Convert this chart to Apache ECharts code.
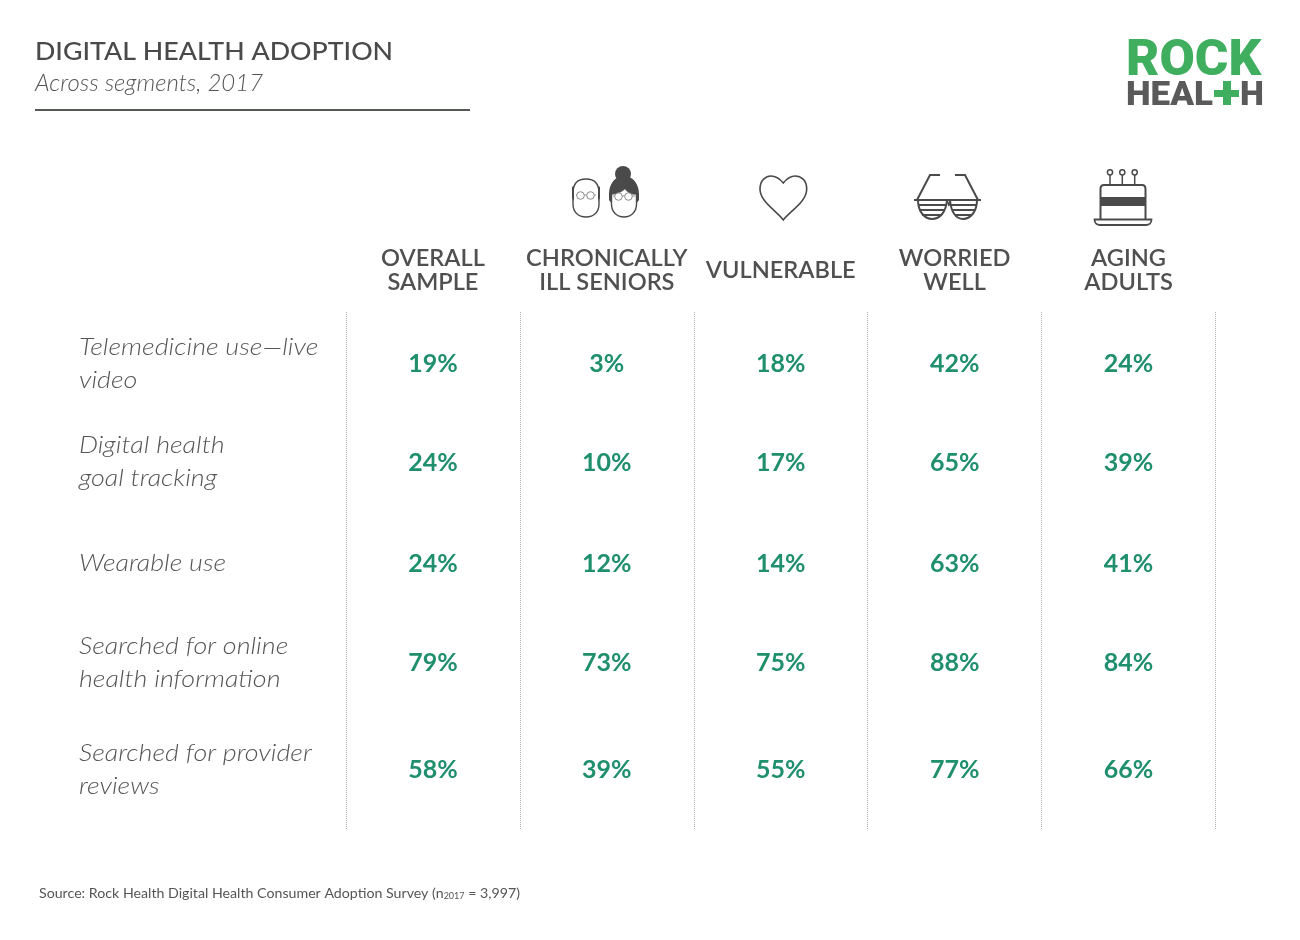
<!DOCTYPE html>
<html>
<head>
<meta charset="utf-8">
<title>Digital health adoption</title>
<script src="https://cdn.jsdelivr.net/npm/echarts@6/dist/echarts.min.js"></script>
<style>
html, body { margin: 0; padding: 0; background: #fff; }
#main { width: 1300px; height: 940px; }
</style>
</head>
<body>
<div id="main"></div>
<script>
var segments = ['OVERALL\nSAMPLE', 'CHRONICALLY\nILL SENIORS', 'VULNERABLE', 'WORRIED\nWELL', 'AGING\nADULTS'];
var measures = [
    'Telemedicine use\u2014live\nvideo',
    'Digital health\ngoal tracking',
    'Wearable use',
    'Searched for online\nhealth information',
    'Searched for provider\nreviews'
];
var overallSample = [19, 24, 24, 79, 58];
var chronicallyIllSeniors = [3, 10, 12, 73, 39];
var vulnerable = [18, 17, 14, 75, 55];
var worriedWell = [42, 65, 63, 88, 77];
var agingAdults = [24, 39, 41, 84, 66];

var columns = [overallSample, chronicallyIllSeniors, vulnerable, worriedWell, agingAdults];

// rows in the original are not evenly spaced, px shift from the band centre
var rowShift = [0, -5, -7, -11, -8];

var FONT = 'Lato';
var DARK = '#4a4a4a';
var GREEN = '#1f8f6c';

var cells = [];
columns.forEach(function (col, c) {
    col.forEach(function (v, r) {
        cells.push({ value: [c, r, v], label: { offset: [0, rowShift[r] + 0.5] } });
    });
});

var path = function (d, fill, stroke, width) {
    return {
        type: 'path',
        shape: { pathData: d },
        style: { fill: fill || 'none', stroke: stroke || 'none', lineWidth: width || 0 }
    };
};
var circle = function (x, y, r, fill, stroke, width) {
    return {
        type: 'circle',
        shape: { cx: x, cy: y, r: r },
        style: { fill: fill || 'none', stroke: stroke || 'none', lineWidth: width || 0 }
    };
};
var rect = function (x, y, w, h, fill) {
    return { type: 'rect', shape: { x: x, y: y, width: w, height: h }, style: { fill: fill } };
};
var logoText = function (text, x, y, size, fill, sx) {
    return {
        type: 'text',
        silent: true,
        x: x,
        y: y,
        scaleX: sx,
        style: { text: text, fill: fill, font: '900 ' + size + 'px Roboto', verticalAlign: 'middle' }
    };
};

var iconParts = [
    // seniors
    path('M586 179 C577 179 573 184 573 193 L573 204 C573 212 578 217 586 217 C594 217 599 212 599 204 L599 193 C599 184 595 179 586 179 Z', '#fff', DARK, 1.4),
    path('M572 187 L574 186 L574 201 L572 198 Z M600 187 L598 186 L598 201 L600 198 Z', DARK),
    circle(580.5, 195.5, 3.8, 'none', '#8a8a8a', 1),
    circle(590.5, 195.5, 3.8, 'none', '#8a8a8a', 1),
    path('M576 195 L577 195 M584.3 195 L586.7 195 M594.3 195 L596 195', 'none', '#8a8a8a', 1),
    circle(623, 174, 8, DARK),
    path('M624 176 C615 176 609 184 609 194 L609 200 L612 204 L612 194 C618 194 624 190 625 188 C627 191 631 194 636 194 L636 204 L639 200 L639 194 C639 184 633 176 624 176 Z', DARK),
    path('M611.5 194 C618 194 624 190 625 188 C627 191 631 194 636.5 194 L636.5 204 C636.5 212 631 217 624 217 C617 217 611.5 212 611.5 204 Z', '#fff', DARK, 1.4),
    circle(618.5, 196.5, 3.8, 'none', '#8a8a8a', 1),
    circle(628.5, 196.5, 3.8, 'none', '#8a8a8a', 1),
    path('M613 196 L614.7 196 M622.3 196 L624.7 196 M632.3 196 L635 196', 'none', '#8a8a8a', 1),

    // heart
    path('M783.3 220 C777 211 760 202 760 189 C760 180 766 176 771 176 C776 176 780 179 783.3 183 C786.5 179 790 176 795 176 C801 176 806.7 180 806.7 189 C806.7 202 790 211 783.3 220 Z', 'none', DARK, 1.6),

    // shutter shades
    path('M914 200 L981 200', 'none', DARK, 2),
    path('M917 200 L930 175 L940 175 M978 200 L965 175 L955 175', 'none', DARK, 2),
    path('M918 200 C918 212 925 219 932 219 C940 219 946 212 947 200 M950 200 C951 212 956 219 963 219 C970 219 977 212 977 200', 'none', DARK, 2),
    path('M918 205 L946 205 M919 210 L945 210 M922 215 L942 215 M951 205 L976 205 M952 210 L975 210 M955 215 L972 215', 'none', DARK, 1.8),
    path('M947 200 L949 206 M950 200 L949 206', 'none', DARK, 1.4),

    // cake
    circle(1110, 172.3, 2.6, '#fff', DARK, 1.5),
    circle(1122.3, 172.3, 2.6, '#fff', DARK, 1.5),
    circle(1134.7, 172.3, 2.6, '#fff', DARK, 1.5),
    path('M1110 175 L1110 185 M1122.3 175 L1122.3 185 M1134.7 175 L1134.7 185', 'none', DARK, 1.5),
    path('M1100.5 219 L1100.5 189 C1100.5 186 1102 185 1104 185 L1142 185 C1144 185 1145.5 186 1145.5 189 L1145.5 219', 'none', DARK, 2),
    rect(1100, 197, 46, 9, DARK),
    path('M1094.5 219.5 L1151.5 219.5 C1151.5 223 1149 225 1146 225 L1100 225 C1097 225 1094.5 223 1094.5 219.5 Z', 'none', DARK, 1.8)
];

var graphics = [
    // title, stretched because the original is letterspaced
    {
        type: 'text',
        silent: true,
        x: 35,
        y: 52,
        scaleX: 1.115,
        style: { text: 'DIGITAL HEALTH ADOPTION', fill: DARK, font: '500 24px ' + FONT, verticalAlign: 'middle' }
    },
    {
        type: 'text',
        silent: true,
        x: 35,
        y: 83,
        style: { text: 'Across segments, 2017', fill: '#555', font: 'italic 300 24px ' + FONT, verticalAlign: 'middle' }
    },
    { type: 'line', silent: true, shape: { x1: 35, y1: 110, x2: 470, y2: 110 }, style: { stroke: '#555a55', lineWidth: 2 } },

    // logo
    logoText('ROCK', 1126, 62, 50, '#3fae5f', 1.025),
    logoText('HEAL', 1126, 96, 34, '#5a5a5a', 1.03),
    logoText('H', 1240, 96, 34, '#5a5a5a', 1.0),
    rect(1214, 90, 25, 7, '#3fae5f'),
    rect(1223, 81, 8, 24, '#3fae5f'),

    // source note
    {
        type: 'text',
        silent: true,
        x: 39,
        y: 893,
        style: {
            text: '{a|Source: Rock Health Digital Health Consumer Adoption Survey (n}{s|2017}{a| = 3,997)}',
            verticalAlign: 'middle',
            rich: {
                a: { font: '14.2px ' + FONT, fill: '#555', lineHeight: 16 },
                s: { font: '9px ' + FONT, fill: '#555', lineHeight: 16, verticalAlign: 'bottom' }
            }
        }
    }
];

var mychart = echarts.init(document.getElementById('main'));
var option = {
    backgroundColor: '#fff',
    animation: false,
    grid: { left: 346, top: 312, width: 869.5, height: 517 },
    xAxis: {
        type: 'category',
        position: 'top',
        data: segments,
        axisLine: { show: false },
        axisTick: { show: false },
        splitLine: { show: true, interval: 0, lineStyle: { type: 'dotted', color: '#b0b0b0', width: 1 } },
        axisLabel: {
            interval: 0,
            margin: 42,
            verticalAlign: 'middle',
            fontFamily: FONT,
            fontSize: 23.6,
            fontWeight: 600,
            lineHeight: 24,
            color: '#505050'
        }
    },
    yAxis: {
        type: 'category',
        inverse: true,
        data: measures,
        axisLine: { show: false },
        axisTick: { show: false },
        axisLabel: { show: false },
        splitLine: { show: false }
    },
    series: [
        {
            name: 'values',
            type: 'scatter',
            symbolSize: 0,
            itemStyle: { opacity: 1 },
            data: cells,
            label: {
                show: true,
                position: 'inside',
                fontFamily: FONT,
                fontSize: 25,
                fontWeight: 700,
                color: GREEN,
                formatter: function (p) { return p.value[2] + '%'; }
            }
        },
        {
            // row names are stretched too, the original face is wider than Lato
            name: 'rows',
            type: 'custom',
            silent: true,
            data: measures.map(function (name, r) { return [0, r]; }),
            renderItem: function (params, api) {
                var r = api.value(1);
                var pos = api.coord([0, r]);
                return {
                    type: 'text',
                    x: pos[0] - 354,
                    y: pos[1] + rowShift[r],
                    scaleX: 1.12,
                    style: {
                        text: measures[r],
                        fill: '#555',
                        font: 'italic 300 24px ' + FONT,
                        lineHeight: 33,
                        verticalAlign: 'middle'
                    }
                };
            }
        },
        {
            name: 'icons',
            type: 'custom',
            coordinateSystem: 'none',
            silent: true,
            data: [0],
            renderItem: function () {
                return { type: 'group', children: iconParts };
            }
        }
    ],
    graphic: { elements: graphics }
};
mychart.setOption(option);
</script>
</body>
</html>
